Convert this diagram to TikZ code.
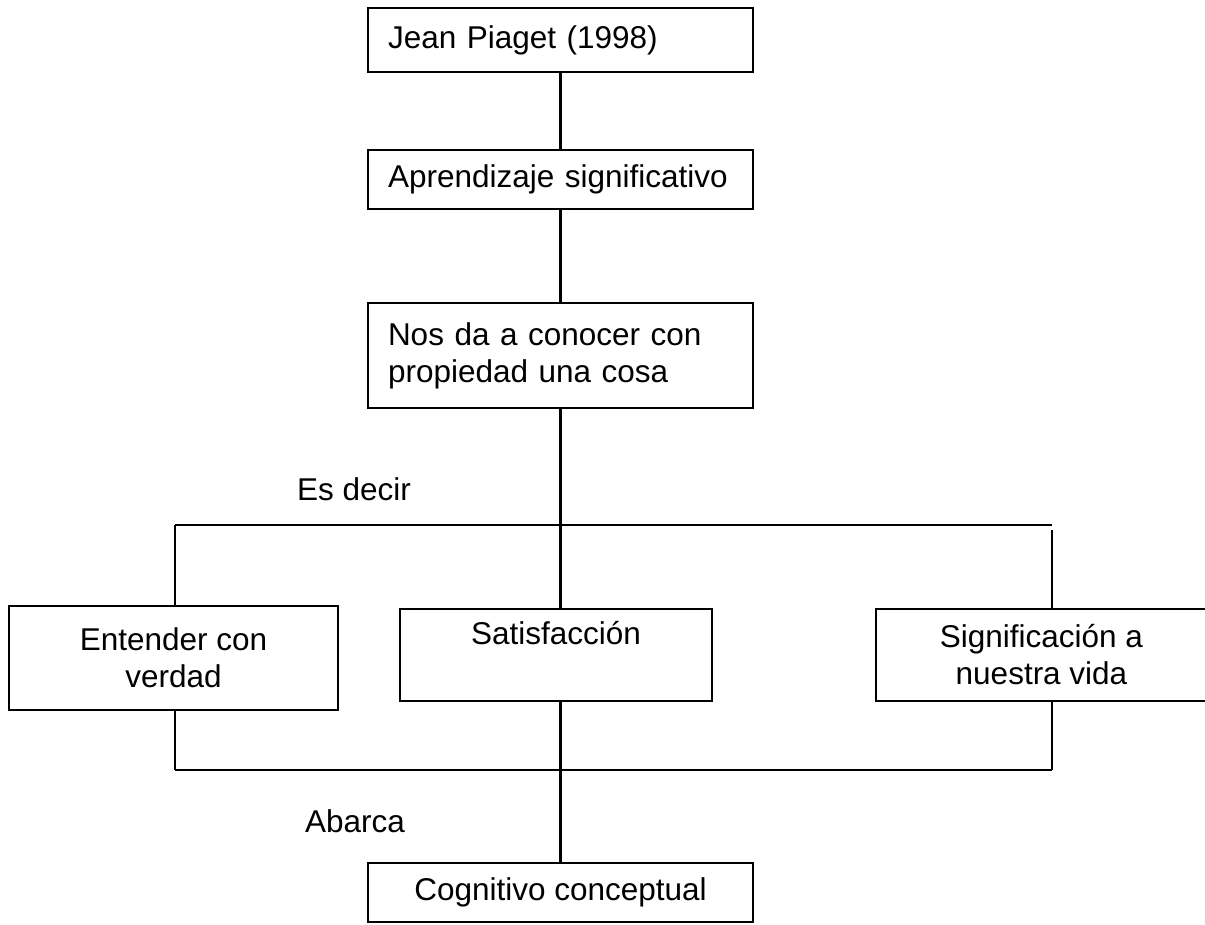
\documentclass[tikz,border=0pt]{standalone}
\usepackage{fontspec}
\setmainfont{Liberation Sans}
\begin{document}
\begin{tikzpicture}[x=1pt,y=-1pt,
  every node/.style={font=\fontsize{31.5}{37}\selectfont},
  lbox/.style={draw, line width=2.2pt, rectangle, inner xsep=20pt, inner ysep=0pt, text width=345pt, align=left, minimum height=#1},
  cbox/.style={draw, line width=2.2pt, rectangle, inner xsep=0pt, inner ysep=0pt, align=center},
  conn/.style={line width=2.2pt},
  lbl/.style={inner sep=0pt, anchor=base west}]
\useasboundingbox (0,0) rectangle (1205,924);
\node[lbox=64pt] (jp) at (560.5,40) {Jean Piaget (1998)};
\node[lbox=59pt] (ap) at (560.5,179.5) {Aprendizaje significativo};
\node[lbox=105pt] (nos) at (560.5,355.5) {Nos da a conocer con\\propiedad una cosa};
\node[cbox, minimum width=329pt, minimum height=104pt] (ent) at (173.5,658) {Entender con\\verdad};
\node[cbox, minimum width=312pt, minimum height=92pt] (sat) at (556,655) {Satisfacción\\\phantom{g}};
\node[cbox, minimum width=331pt, minimum height=92pt] (sig) at (1041.5,655) {Significación a\\nuestra vida};
\node[cbox, minimum width=385pt, minimum height=59pt] (cog) at (560.5,892.5) {Cognitivo conceptual};
\node[lbl] (esd) at (297,500) {Es decir};
\node[lbl] (abc) at (305,832) {Abarca};
\coordinate (tl) at (175,525);
\coordinate (tr) at (1052,525);
\coordinate (trv) at (1052,530);
\coordinate (bl) at (175,770);
\coordinate (br) at (1052,770);
\draw[conn] (jp) -- (ap);
\draw[conn] (ap) -- (nos);
\draw[conn] (nos.south) -- (nos.south |- sat.north);
\draw[conn] (tl) -- (tr);
\draw[conn] (tl) -- (tl |- ent.north);
\draw[conn] (trv) -- (trv |- sig.north);
\draw[conn] (bl) -- (br);
\draw[conn] (bl |- ent.south) -- (bl);
\draw[conn] (br |- sig.south) -- (br);
\draw[conn] (cog.north |- sat.south) -- (cog.north);
\end{tikzpicture}
\end{document}
